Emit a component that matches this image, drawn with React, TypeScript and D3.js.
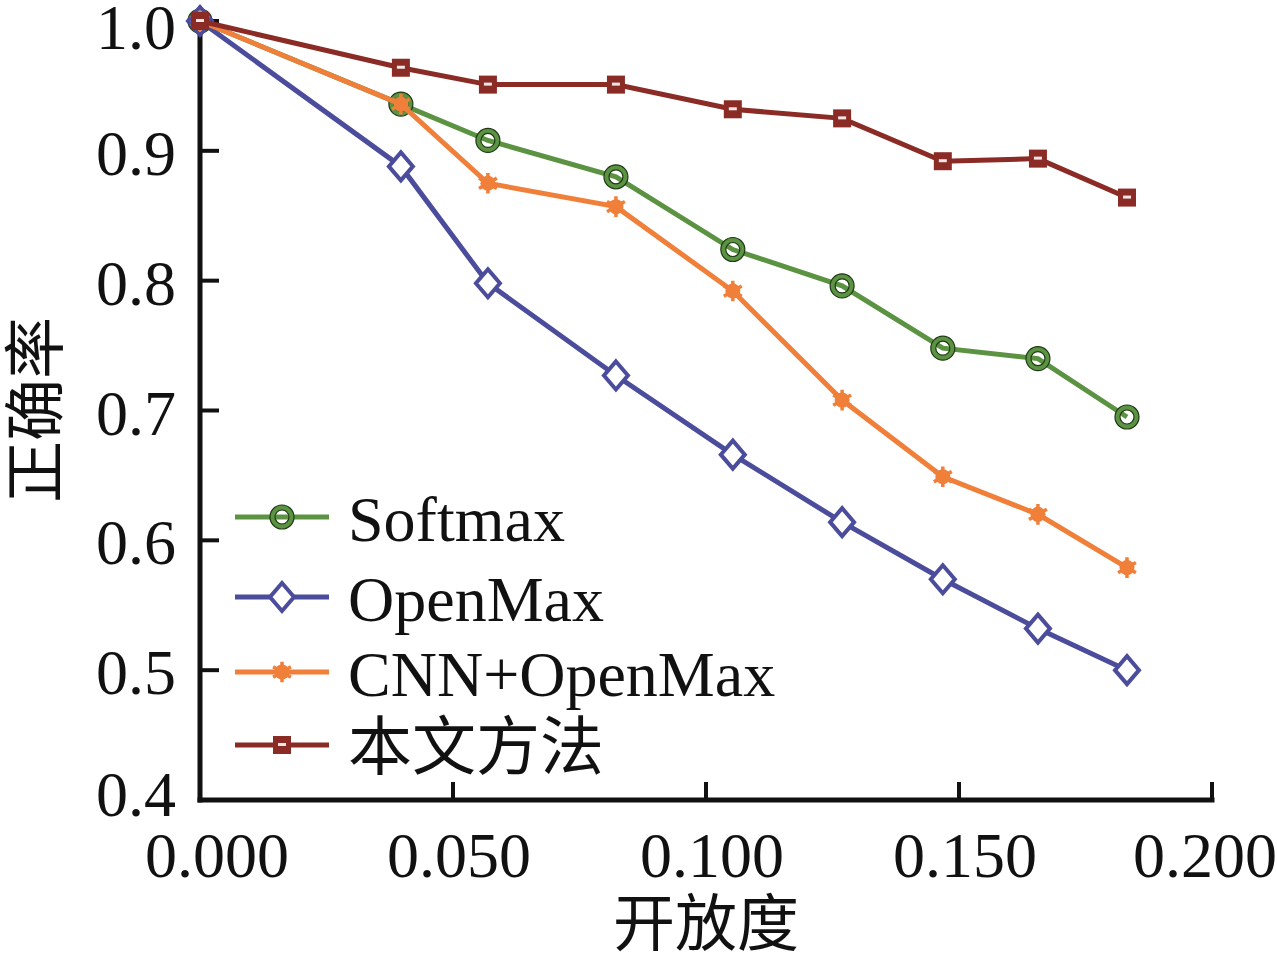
import React from "react";
import * as d3 from "d3";

const xValues = [0, 0.0397, 0.0569, 0.0822, 0.1053, 0.1269, 0.1468, 0.1656, 0.1832];
const softmax = [1.0, 0.936, 0.908, 0.88, 0.824, 0.796, 0.748, 0.74, 0.695];
const openmax = [1.0, 0.888, 0.798, 0.727, 0.666, 0.614, 0.57, 0.532, 0.5];
const cnnOpenmax = [1.0, 0.936, 0.875, 0.857, 0.792, 0.708, 0.649, 0.62, 0.579];
const ours = [1.0, 0.964, 0.951, 0.951, 0.932, 0.925, 0.892, 0.894, 0.864];
const seriesNames = ["Softmax", "OpenMax", "CNN+OpenMax", "本文方法"];
const xTicks = [0, 0.05, 0.1, 0.15, 0.2];
const yTicks = [0.4, 0.5, 0.6, 0.7, 0.8, 0.9, 1.0];
const xTitle = "开放度";
const yTitle = "正确率";

const W = 1277;
const H = 963;
const FONT = "'Liberation Serif', 'Times New Roman', 'Noto Sans CJK SC', serif";
const colors = ["#5b9343", "#4b4d9c", "#f07f3a", "#8b2b25"];
const kinds = ["circle", "diamond", "asterisk", "square"];

const x = d3.scaleLinear().domain([0, 0.2]).range([200, 1212]);
const y = d3.scaleLinear().domain([0.4, 1.0]).range([800, 21]);

function Marker({ kind, cx, cy, color }: { kind: string; cx: number; cy: number; color: string }) {
  if (kind === "circle") {
    return (
      <g>
        <circle cx={cx} cy={cy} r={9.5} fill="none" stroke={color} strokeWidth={5} />
        <circle cx={cx} cy={cy} r={12} fill="none" stroke="#1e3a14" strokeWidth={1.2} />
        <circle cx={cx} cy={cy} r={7} fill="none" stroke="#1e3a14" strokeWidth={1.2} />
      </g>
    );
  }
  if (kind === "diamond") {
    const p = `M${cx},${cy - 14} L${cx + 12},${cy} L${cx},${cy + 14} L${cx - 12},${cy} Z`;
    return <path d={p} fill="white" stroke={color} strokeWidth={4} />;
  }
  if (kind === "asterisk") {
    const star = d3.symbol().type(d3.symbolAsterisk).size(300)();
    return (
      <g transform={`translate(${cx},${cy})`}>
        <path d={star || ""} fill="none" stroke={color} strokeWidth={3.5} />
        <circle r={7.5} fill={color} />
      </g>
    );
  }
  return (
    <g>
      <rect x={cx - 9} y={cy - 9} width={18} height={18} fill={color} />
      <rect x={cx - 4} y={cy - 2} width={8} height={3} fill="#f4e6e4" />
    </g>
  );
}

export default function App() {
  const data = [softmax, openmax, cnnOpenmax, ours];
  const line = d3
    .line<number>()
    .x((_, i) => x(xValues[i]))
    .y((d) => y(d));
  const legendY = [517, 597, 672, 745];

  return (
    <svg
      width={W}
      height={H}
      style={{ position: "absolute", left: 0, top: 0, background: "white" }}
      fontFamily={FONT}
    >
      <rect width={W} height={H} fill="white" />
      {/* axes */}
      <line x1={200} x2={200} y1={y(1.0) - 2} y2={802.5} stroke="#111" strokeWidth={5} />
      <line x1={197.5} x2={1214.5} y1={800} y2={800} stroke="#111" strokeWidth={5} />
      {yTicks.map((t) => (
        <g key={"yt" + t}>
          <line x1={200} x2={219} y1={y(t)} y2={y(t)} stroke="#111" strokeWidth={4} />
          <text
            x={176}
            y={y(t) + (t === 0.4 ? 16 : t === 1.0 ? 28 : 24)}
            fontSize={64}
            textAnchor="end"
            fill="#111"
          >
            {t.toFixed(1)}
          </text>
        </g>
      ))}
      {xTicks.map((t) => (
        <g key={"xt" + t}>
          <line x1={x(t)} x2={x(t)} y1={800} y2={782} stroke="#111" strokeWidth={4} />
          <text
            x={t === 0 ? x(t) + 17 : t === 0.2 ? x(t) - 7 : x(t) + 6}
            y={877}
            fontSize={64}
            textAnchor="middle"
            fill="#111"
          >
            {t.toFixed(3)}
          </text>
        </g>
      ))}
      <text x={706} y={946} fontSize={62} textAnchor="middle" fill="#111">
        {xTitle}
      </text>
      <text
        transform="translate(58,410) rotate(-90)"
        fontSize={62}
        textAnchor="middle"
        fill="#111"
      >
        {yTitle}
      </text>

      {/* series */}
      {data.map((s, k) => (
        <g key={"s" + k}>
          <path d={line(s) || ""} fill="none" stroke={colors[k]} strokeWidth={5} />
          {s.map((v, i) => (
            <Marker key={i} kind={kinds[k]} cx={x(xValues[i])} cy={y(v)} color={colors[k]} />
          ))}
        </g>
      ))}

      {/* legend */}
      {seriesNames.map((n, k) => (
        <g key={"lg" + k}>
          <line x1={235} x2={329} y1={legendY[k]} y2={legendY[k]} stroke={colors[k]} strokeWidth={5} />
          <Marker kind={kinds[k]} cx={282} cy={legendY[k]} color={colors[k]} />
          <text x={348} y={legendY[k] + 24} fontSize={64} fill="#111">
            {n}
          </text>
        </g>
      ))}
    </svg>
  );
}
